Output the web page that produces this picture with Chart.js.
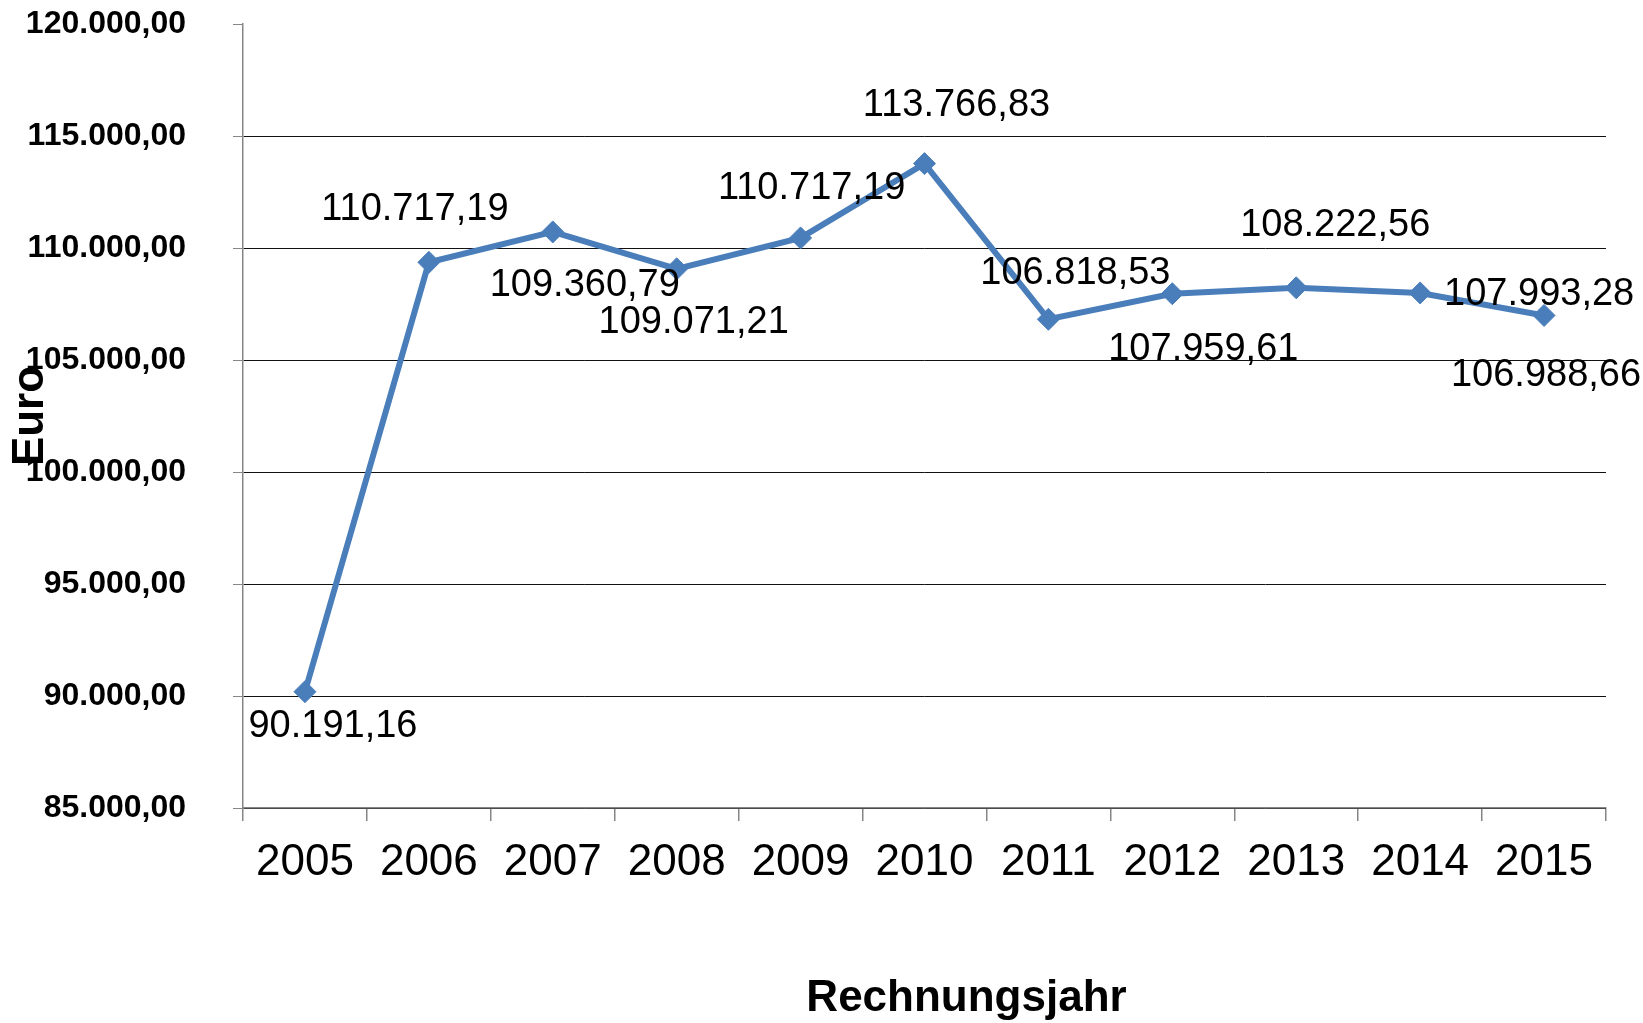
<!DOCTYPE html>
<html>
<head>
<meta charset="utf-8">
<script src="https://cdn.jsdelivr.net/npm/chart.js@4.4.1/dist/chart.umd.min.js"></script>
<style>
  html, body { margin: 0; padding: 0; background: #fff; }
  #wrap { width: 1643px; height: 1023px; }
</style>
</head>
<body>
<div id="wrap"><canvas id="myChart" width="1643" height="1023"></canvas></div>
<script>
const years = ['2005', '2006', '2007', '2008', '2009', '2010', '2011', '2012', '2013', '2014', '2015'];
const euro = [90191.16, 109360.79, 110717.19, 109071.21, 110450.00, 113766.83, 106818.53, 107959.61, 108222.56, 107993.28, 106988.66];
// label texts as printed in the picture
const pointLabels = ['90.191,16', '110.717,19', '109.360,79', '109.071,21', '110.717,19', '113.766,83',
  '106.818,53', '107.959,61', '108.222,56', '107.993,28', '106.988,66'];
const yMin = 85000, yMax = 120000, yStep = 5000;
const xTitle = 'Rechnungsjahr';

// where each label sits relative to its point (px)
const labelOffsets = [[28, 35], [-14, -53], [32, 54], [17, 54], [11, -49], [32, -58],
  [27, -46], [31, 56], [39, -62], [119, 2], [2, 60]];

const FONT = '"Liberation Sans", Arial, sans-serif';
const fmt = v => v.toLocaleString('de-DE', { minimumFractionDigits: 2, maximumFractionDigits: 2 });

const labelPlugin = {
  id: 'pointLabels',
  afterDatasetsDraw(chart) {
    const ctx = chart.ctx;
    const meta = chart.getDatasetMeta(0);
    ctx.save();
    ctx.font = '38px ' + FONT;
    ctx.fillStyle = '#000';
    ctx.textAlign = 'center';
    ctx.textBaseline = 'middle';
    meta.data.forEach((pt, i) => {
      const o = labelOffsets[i];
      ctx.fillText(pointLabels[i], pt.x + o[0], pt.y + o[1]);
    });
    // x axis title, sits a bit right of centre like in the original
    ctx.font = 'bold 44px ' + FONT;
    const a = chart.chartArea;
    ctx.fillText(xTitle, (a.left + a.right) / 2 + 42, 999);
    ctx.restore();
  }
};

const ctx = document.getElementById('myChart');
new Chart(ctx, {
  type: 'line',
  data: {
    labels: years,
    datasets: [{
      data: euro,
      borderColor: '#4A7EBB',
      backgroundColor: '#4A7EBB',
      borderWidth: 6,
      pointStyle: 'rectRot',
      pointRadius: 11,
      pointBorderWidth: 1,
      tension: 0
    }]
  },
  options: {
    responsive: false,
    animation: false,
    layout: { padding: { left: 0, right: 37, top: 24, bottom: 0 } },
    plugins: {
      legend: { display: false },
      tooltip: { enabled: false }
    },
    scales: {
      x: {
        offset: true,
        grid: {
          offset: true,
          drawOnChartArea: false,
          tickLength: 13,
          tickColor: '#868686',
          lineWidth: 1.5
        },
        border: { color: '#868686', width: 1.5 },
        ticks: {
          padding: 15,
          color: '#000',
          font: { family: FONT, size: 44 }
        },
        afterFit(scale) { scale.height = 1023 - 808; }
      },
      y: {
        min: yMin,
        max: yMax,
        grid: {
          color: c => (c.tick && c.tick.value === yMax) ? 'rgba(0,0,0,0)' : '#111',
          tickColor: '#868686',
          tickLength: 10,
          lineWidth: 1
        },
        border: { color: '#868686', width: 1.5 },
        ticks: {
          stepSize: yStep,
          padding: 47,
          color: '#000',
          font: { family: FONT, size: 32, weight: 'bold' },
          callback: v => fmt(v)
        },
        title: {
          display: true,
          text: 'Euro',
          color: '#000',
          font: { family: FONT, size: 44, weight: 'bold' },
          padding: { top: 4, bottom: 0 }
        },
        afterFit(scale) {
          scale.width = 243;
          scale.paddingTop = 0;
          scale.paddingBottom = 0;
        }
      }
    }
  },
  plugins: [labelPlugin]
});
</script>
</body>
</html>
